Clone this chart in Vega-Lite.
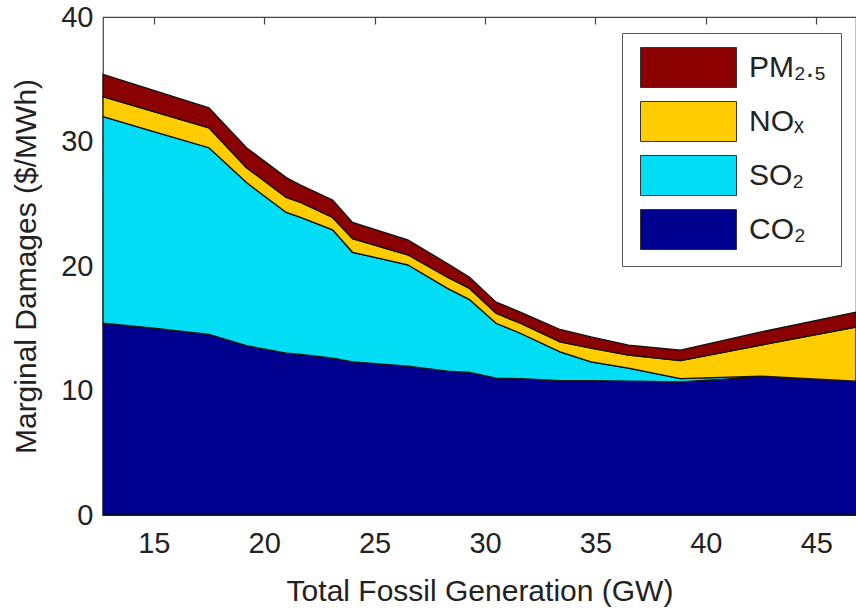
{
  "$schema": "https://vega.github.io/schema/vega-lite/v6.json",
  "width": 753,
  "height": 498,
  "autosize": {"type": "none"},
  "padding": {"left": 103, "top": 17, "right": 0, "bottom": 96},
  "background": "white",
  "config": {
    "font": "Liberation Sans",
    "view": {"stroke": "#444", "strokeWidth": 1.2}
  },
  "data": {
    "values": [
      {"gw": 12.7, "pollutant": "CO₂", "rank": 1, "damage": 15.4},
      {"gw": 12.7, "pollutant": "SO₂", "rank": 2, "damage": 16.6},
      {"gw": 12.7, "pollutant": "NOₓ", "rank": 3, "damage": 1.6},
      {"gw": 12.7, "pollutant": "PM₂.₅", "rank": 4, "damage": 1.8},
      {"gw": 15.0, "pollutant": "CO₂", "rank": 1, "damage": 15.0},
      {"gw": 15.0, "pollutant": "SO₂", "rank": 2, "damage": 15.8},
      {"gw": 15.0, "pollutant": "NOₓ", "rank": 3, "damage": 1.6},
      {"gw": 15.0, "pollutant": "PM₂.₅", "rank": 4, "damage": 1.7},
      {"gw": 17.5, "pollutant": "CO₂", "rank": 1, "damage": 14.5},
      {"gw": 17.5, "pollutant": "SO₂", "rank": 2, "damage": 15.0},
      {"gw": 17.5, "pollutant": "NOₓ", "rank": 3, "damage": 1.6},
      {"gw": 17.5, "pollutant": "PM₂.₅", "rank": 4, "damage": 1.6},
      {"gw": 19.2, "pollutant": "CO₂", "rank": 1, "damage": 13.6},
      {"gw": 19.2, "pollutant": "SO₂", "rank": 2, "damage": 13.1},
      {"gw": 19.2, "pollutant": "NOₓ", "rank": 3, "damage": 1.2},
      {"gw": 19.2, "pollutant": "PM₂.₅", "rank": 4, "damage": 1.6},
      {"gw": 21.0, "pollutant": "CO₂", "rank": 1, "damage": 13.0},
      {"gw": 21.0, "pollutant": "SO₂", "rank": 2, "damage": 11.3},
      {"gw": 21.0, "pollutant": "NOₓ", "rank": 3, "damage": 1.2},
      {"gw": 21.0, "pollutant": "PM₂.₅", "rank": 4, "damage": 1.6},
      {"gw": 21.65, "pollutant": "CO₂", "rank": 1, "damage": 12.9},
      {"gw": 21.65, "pollutant": "SO₂", "rank": 2, "damage": 11.0},
      {"gw": 21.65, "pollutant": "NOₓ", "rank": 3, "damage": 1.2},
      {"gw": 21.65, "pollutant": "PM₂.₅", "rank": 4, "damage": 1.4},
      {"gw": 23.1, "pollutant": "CO₂", "rank": 1, "damage": 12.6},
      {"gw": 23.1, "pollutant": "SO₂", "rank": 2, "damage": 10.3},
      {"gw": 23.1, "pollutant": "NOₓ", "rank": 3, "damage": 1.0},
      {"gw": 23.1, "pollutant": "PM₂.₅", "rank": 4, "damage": 1.4},
      {"gw": 24.0, "pollutant": "CO₂", "rank": 1, "damage": 12.3},
      {"gw": 24.0, "pollutant": "SO₂", "rank": 2, "damage": 8.8},
      {"gw": 24.0, "pollutant": "NOₓ", "rank": 3, "damage": 1.1},
      {"gw": 24.0, "pollutant": "PM₂.₅", "rank": 4, "damage": 1.3},
      {"gw": 26.5, "pollutant": "CO₂", "rank": 1, "damage": 11.95},
      {"gw": 26.5, "pollutant": "SO₂", "rank": 2, "damage": 8.15},
      {"gw": 26.5, "pollutant": "NOₓ", "rank": 3, "damage": 0.8},
      {"gw": 26.5, "pollutant": "PM₂.₅", "rank": 4, "damage": 1.2},
      {"gw": 28.3, "pollutant": "CO₂", "rank": 1, "damage": 11.55},
      {"gw": 28.3, "pollutant": "SO₂", "rank": 2, "damage": 6.65},
      {"gw": 28.3, "pollutant": "NOₓ", "rank": 3, "damage": 0.9},
      {"gw": 28.3, "pollutant": "PM₂.₅", "rank": 4, "damage": 1.1},
      {"gw": 29.3, "pollutant": "CO₂", "rank": 1, "damage": 11.45},
      {"gw": 29.3, "pollutant": "SO₂", "rank": 2, "damage": 5.85},
      {"gw": 29.3, "pollutant": "NOₓ", "rank": 3, "damage": 0.9},
      {"gw": 29.3, "pollutant": "PM₂.₅", "rank": 4, "damage": 0.9},
      {"gw": 30.5, "pollutant": "CO₂", "rank": 1, "damage": 11.0},
      {"gw": 30.5, "pollutant": "SO₂", "rank": 2, "damage": 4.4},
      {"gw": 30.5, "pollutant": "NOₓ", "rank": 3, "damage": 0.8},
      {"gw": 30.5, "pollutant": "PM₂.₅", "rank": 4, "damage": 0.9},
      {"gw": 31.6, "pollutant": "CO₂", "rank": 1, "damage": 10.95},
      {"gw": 31.6, "pollutant": "SO₂", "rank": 2, "damage": 3.65},
      {"gw": 31.6, "pollutant": "NOₓ", "rank": 3, "damage": 0.8},
      {"gw": 31.6, "pollutant": "PM₂.₅", "rank": 4, "damage": 0.9},
      {"gw": 33.4, "pollutant": "CO₂", "rank": 1, "damage": 10.8},
      {"gw": 33.4, "pollutant": "SO₂", "rank": 2, "damage": 2.3},
      {"gw": 33.4, "pollutant": "NOₓ", "rank": 3, "damage": 0.8},
      {"gw": 33.4, "pollutant": "PM₂.₅", "rank": 4, "damage": 1.0},
      {"gw": 34.8, "pollutant": "CO₂", "rank": 1, "damage": 10.8},
      {"gw": 34.8, "pollutant": "SO₂", "rank": 2, "damage": 1.5},
      {"gw": 34.8, "pollutant": "NOₓ", "rank": 3, "damage": 1.1},
      {"gw": 34.8, "pollutant": "PM₂.₅", "rank": 4, "damage": 0.9},
      {"gw": 36.5, "pollutant": "CO₂", "rank": 1, "damage": 10.75},
      {"gw": 36.5, "pollutant": "SO₂", "rank": 2, "damage": 1.05},
      {"gw": 36.5, "pollutant": "NOₓ", "rank": 3, "damage": 1.05},
      {"gw": 36.5, "pollutant": "PM₂.₅", "rank": 4, "damage": 0.8},
      {"gw": 38.85, "pollutant": "CO₂", "rank": 1, "damage": 10.7},
      {"gw": 38.85, "pollutant": "SO₂", "rank": 2, "damage": 0.25},
      {"gw": 38.85, "pollutant": "NOₓ", "rank": 3, "damage": 1.45},
      {"gw": 38.85, "pollutant": "PM₂.₅", "rank": 4, "damage": 0.85},
      {"gw": 42.5, "pollutant": "CO₂", "rank": 1, "damage": 11.1},
      {"gw": 42.5, "pollutant": "SO₂", "rank": 2, "damage": 0.05},
      {"gw": 42.5, "pollutant": "NOₓ", "rank": 3, "damage": 2.5},
      {"gw": 42.5, "pollutant": "PM₂.₅", "rank": 4, "damage": 1.05},
      {"gw": 46.8, "pollutant": "CO₂", "rank": 1, "damage": 10.75},
      {"gw": 46.8, "pollutant": "SO₂", "rank": 2, "damage": 0.0},
      {"gw": 46.8, "pollutant": "NOₓ", "rank": 3, "damage": 4.35},
      {"gw": 46.8, "pollutant": "PM₂.₅", "rank": 4, "damage": 1.2}
    ]
  },
  "resolve": {"axis": {"x": "independent"}},
  "layer": [
    {
      "mark": {"type": "area", "stroke": "#111", "strokeWidth": 1.3, "opacity": 1, "fillOpacity": 1},
      "encoding": {
        "x": {
          "field": "gw", "type": "quantitative",
          "scale": {"domain": [12.7, 46.8], "nice": false, "zero": false},
          "axis": {
            "orient": "bottom", "values": [15, 20, 25, 30, 35, 40, 45],
            "title": "Total Fossil Generation (GW)",
            "ticks": false, "domain": false, "grid": false,
            "labelFontSize": 29, "labelColor": "#222", "labelPadding": 14,
            "titleFontSize": 30, "titleFontWeight": "normal", "titleColor": "#222", "titlePadding": 18
          }
        },
        "y": {
          "field": "damage", "type": "quantitative", "stack": "zero",
          "scale": {"domain": [0, 40], "nice": false},
          "axis": {
            "values": [0, 10, 20, 30, 40],
            "title": "Marginal Damages ($/MWh)",
            "ticks": false, "domain": false, "grid": false,
            "labelFontSize": 29, "labelColor": "#222", "labelPadding": 10,
            "titleFontSize": 30, "titleFontWeight": "normal", "titleColor": "#222", "titlePadding": 19
          }
        },
        "color": {
          "field": "pollutant", "type": "nominal",
          "scale": {"domain": ["PM₂.₅", "NOₓ", "SO₂", "CO₂"], "range": ["#8B0000", "#FFCC00", "#00DDF5", "#00008F"]},
          "legend": {
            "title": null, "orient": "none", "legendX": 519, "legendY": 16,
            "padding": 14, "strokeColor": "#555", "fillColor": "white",
            "symbolType": "M-2.4,-1H2.4V1H-2.4Z", "symbolSize": 1600,
            "symbolOffset": 32,
            "symbolStrokeColor": "#333", "symbolStrokeWidth": 1,
            "rowPadding": 9, "labelOffset": 40, "labelFontSize": 30, "labelColor": "#222", "labelLimit": 300
          }
        },
        "order": {"field": "rank", "type": "quantitative"}
      }
    },
    {
      "mark": {"type": "point", "opacity": 0},
      "encoding": {
        "x": {
          "field": "gw", "type": "quantitative",
          "axis": {
            "orient": "top", "values": [15, 20, 25, 30, 35, 40, 45],
            "labels": false, "ticks": true, "tickSize": -7, "tickColor": "#444", "tickWidth": 1.2,
            "domain": false, "grid": false, "title": null
          }
        }
      }
    }
  ]
}
